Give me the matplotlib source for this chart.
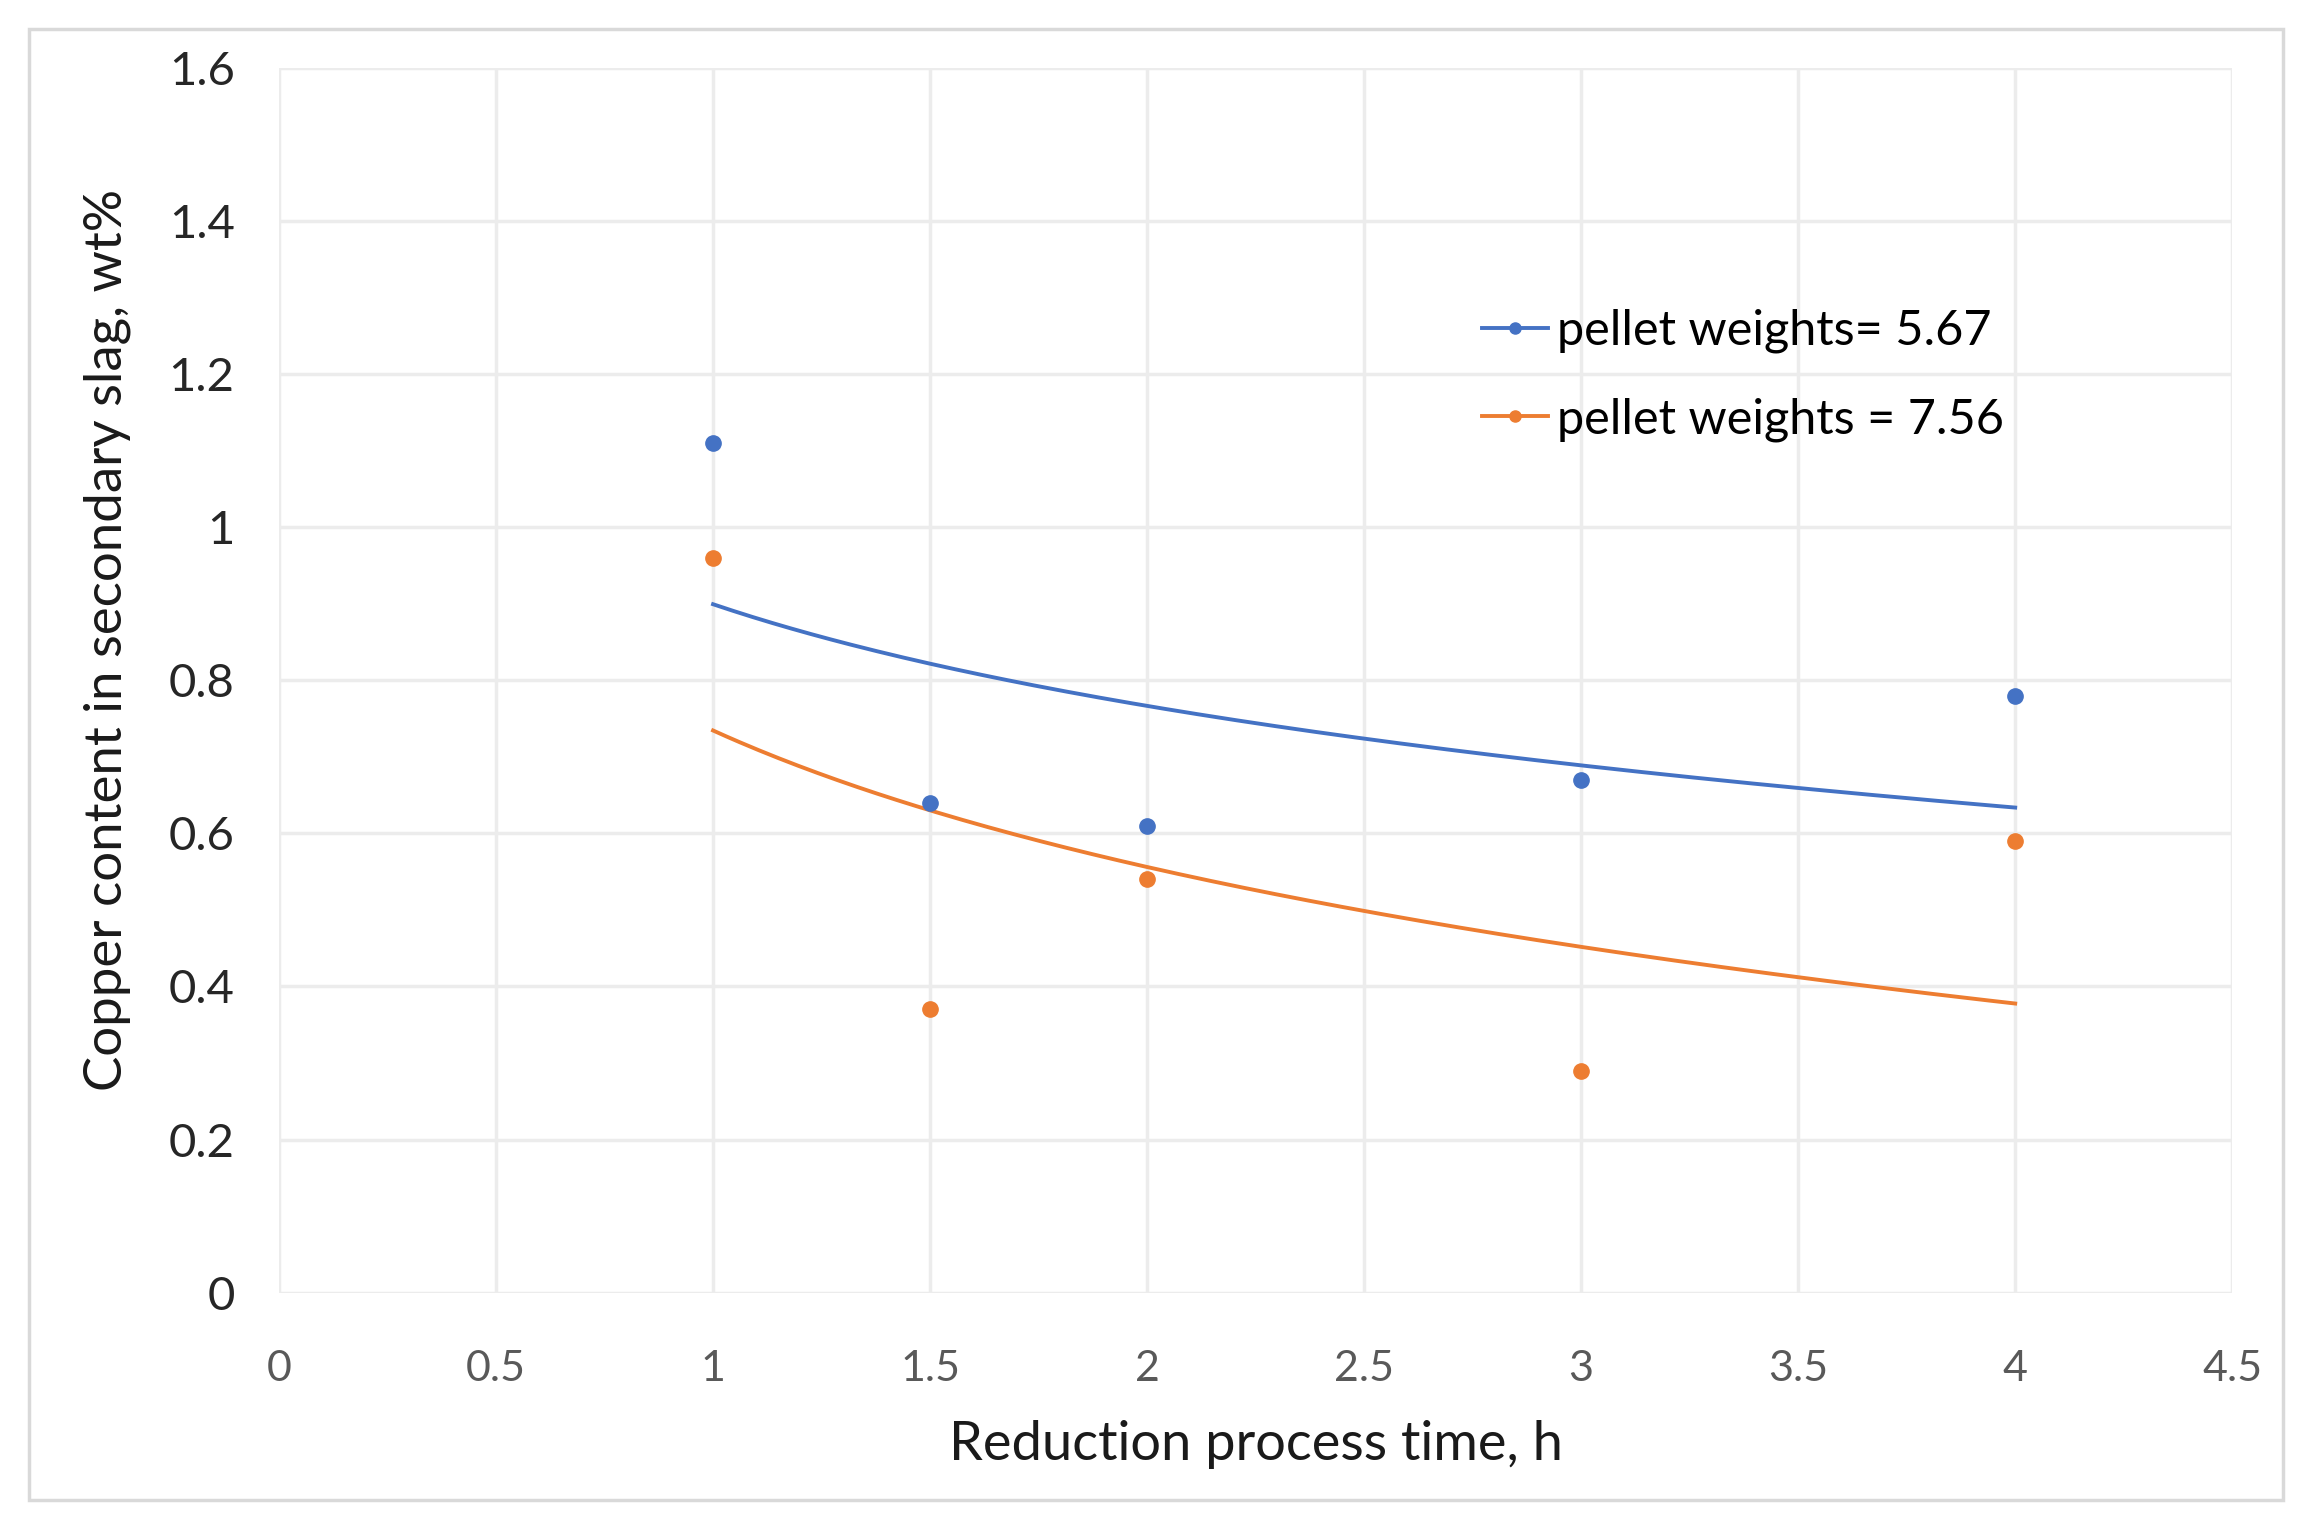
import numpy as np
import matplotlib
matplotlib.use("Agg")
import matplotlib.pyplot as plt
from matplotlib.lines import Line2D
from matplotlib.patches import Rectangle

# Data
time_h = [1, 1.5, 2, 3, 4]
cu_567 = [1.11, 0.64, 0.61, 0.67, 0.78]
cu_756 = [0.96, 0.37, 0.54, 0.29, 0.59]
labels = ["pellet weights= 5.67", "pellet weights = 7.56"]
x_ticks = [0, 0.5, 1, 1.5, 2, 2.5, 3, 3.5, 4, 4.5]
y_ticks = [0, 0.2, 0.4, 0.6, 0.8, 1, 1.2, 1.4, 1.6]

BLUE = "#4472C4"
ORANGE = "#ED7D31"

plt.rcParams['font.family'] = ['Lato', 'DejaVu Sans']

fig = plt.figure(figsize=(23.06, 15.28), dpi=100)
ax = fig.add_axes([0.121, 0.154, 0.847, 0.8016])

# Outer chart border
fig.patches.append(Rectangle((0.0126, 0.018), 0.9775, 0.963, transform=fig.transFigure,
                             fill=False, edgecolor="#d9d9d9", linewidth=2.5))

# Logarithmic trendlines (least squares on ln x), drawn from x=1 to x=4
xs = np.linspace(min(time_h), max(time_h), 200)
for ys, col in [(cu_567, BLUE), (cu_756, ORANGE)]:
    c, a = np.polyfit(np.log(time_h), ys, 1)
    ax.plot(xs, a + c * np.log(xs), color=col, linewidth=2.8, zorder=3)
    ax.plot(time_h, ys, 'o', color=col, markersize=11, zorder=4)

ax.set_xlim(0, 4.5)
ax.set_ylim(0, 1.6)
ax.set_xticks(x_ticks)
ax.set_yticks(y_ticks)
ax.set_xticklabels([f"{v:g}" for v in x_ticks], fontsize=31, color="#595959")
ax.set_yticklabels([f"{v:g}" for v in y_ticks], fontsize=34, color="#262626")
ax.tick_params(axis='x', length=0, pad=41)
ax.tick_params(axis='y', length=0, pad=32)
ax.grid(True, color="#ececec", linewidth=2.5)
ax.set_axisbelow(True)
for s in ax.spines.values():
    s.set_visible(False)

ax.set_xlabel("Reduction process time, h", fontsize=39, color="#1a1a1a", labelpad=23)
ax.set_ylabel("Copper content in secondary slag, wt%", fontsize=38, color="#1a1a1a")
ax.yaxis.set_label_coords(-0.076, 0.533)

handles = [Line2D([0], [0], color=BLUE, lw=2.8, marker='o', markersize=8),
           Line2D([0], [0], color=ORANGE, lw=2.8, marker='o', markersize=8)]
ax.legend(handles, labels, loc='upper left', bbox_to_anchor=(0.606, 0.819), frameon=False,
          fontsize=35, handlelength=1.35, handletextpad=0.2, labelspacing=0.9,
          borderaxespad=0)

fig.savefig("out.png", dpi=100, facecolor="white")
